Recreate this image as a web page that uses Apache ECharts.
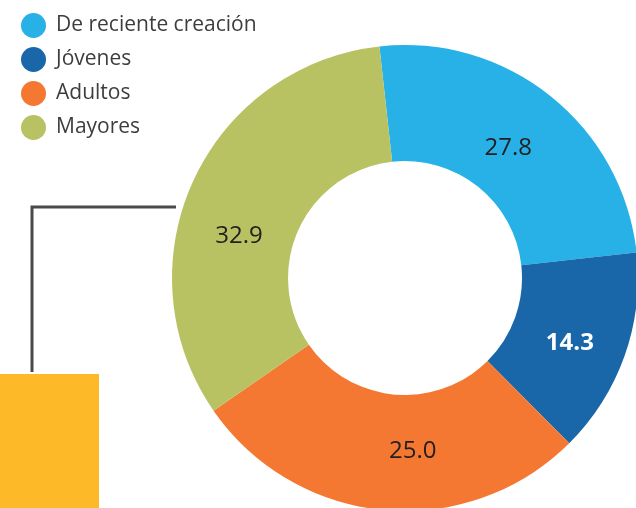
<!DOCTYPE html>
<html>
<head>
<meta charset="utf-8">
<script src="https://cdn.jsdelivr.net/npm/echarts@6/dist/echarts.min.js"></script>
<style>
  html, body { margin: 0; padding: 0; background: #fff; }
  #chart { width: 636px; height: 508px; }
</style>
</head>
<body>
<div id="chart"></div>
<script>
// categories, in drawing order (clockwise from the top)
const categories = ['De reciente creación', 'Jóvenes', 'Adultos', 'Mayores'];
// arc sizes as they are drawn in the picture (the printed numbers of the
// first and third slices are swapped against their arcs in the original)
const sliceValues = [25.0, 14.3, 27.8, 32.9];
// numbers printed on the slices
const labelValues = ['27.8', '14.3', '25.0', '32.9'];
const colors = ['#27b1e6', '#1967a8', '#f47732', '#b9c262'];

// small nudges so the labels sit where the original put them
const labelNudge = [[-8, 9], [-3, 6], [24, -4], [-4, 32]];

const myChart = echarts.init(document.getElementById('chart'));

let option = {
  animation: false,
  color: colors,
  legend: {
    orient: 'vertical',
    left: 16,
    top: 8,
    icon: 'circle',
    itemWidth: 25,
    itemHeight: 25,
    itemGap: 9,
    selectedMode: false,
    textStyle: {
      fontFamily: 'Open Sans',
      fontSize: 21,
      color: '#3d3d3d',
      padding: [0, 0, 0, 5]
    },
    data: categories
  },
  graphic: [
    {
      type: 'rect',
      shape: { x: 0, y: 374, width: 99, height: 140 },
      style: { fill: '#fdb927' }
    },
    {
      type: 'polyline',
      shape: { points: [[32, 372], [32, 207], [176, 207]] },
      style: { stroke: '#4a4a4a', lineWidth: 3, fill: null }
    }
  ],
  series: [
    {
      type: 'pie',
      center: [405, 278],
      radius: [117, 233],
      startAngle: 96.3,
      clockwise: true,
      silent: true,
      label: {
        show: true,
        position: 'inside',
        fontFamily: 'Open Sans',
        fontSize: 24,
        color: '#231f20',
        formatter: (p) => labelValues[p.dataIndex]
      },
      labelLine: { show: false },
      labelLayout: (p) => ({
        dx: labelNudge[p.dataIndex][0],
        dy: labelNudge[p.dataIndex][1]
      }),
      data: categories.map((name, i) => ({
        name: name,
        value: sliceValues[i],
        label: i === 1 ? { color: '#fff', fontWeight: 'bold' } : undefined
      }))
    }
  ]
};
myChart.setOption(option);
</script>
</body>
</html>
